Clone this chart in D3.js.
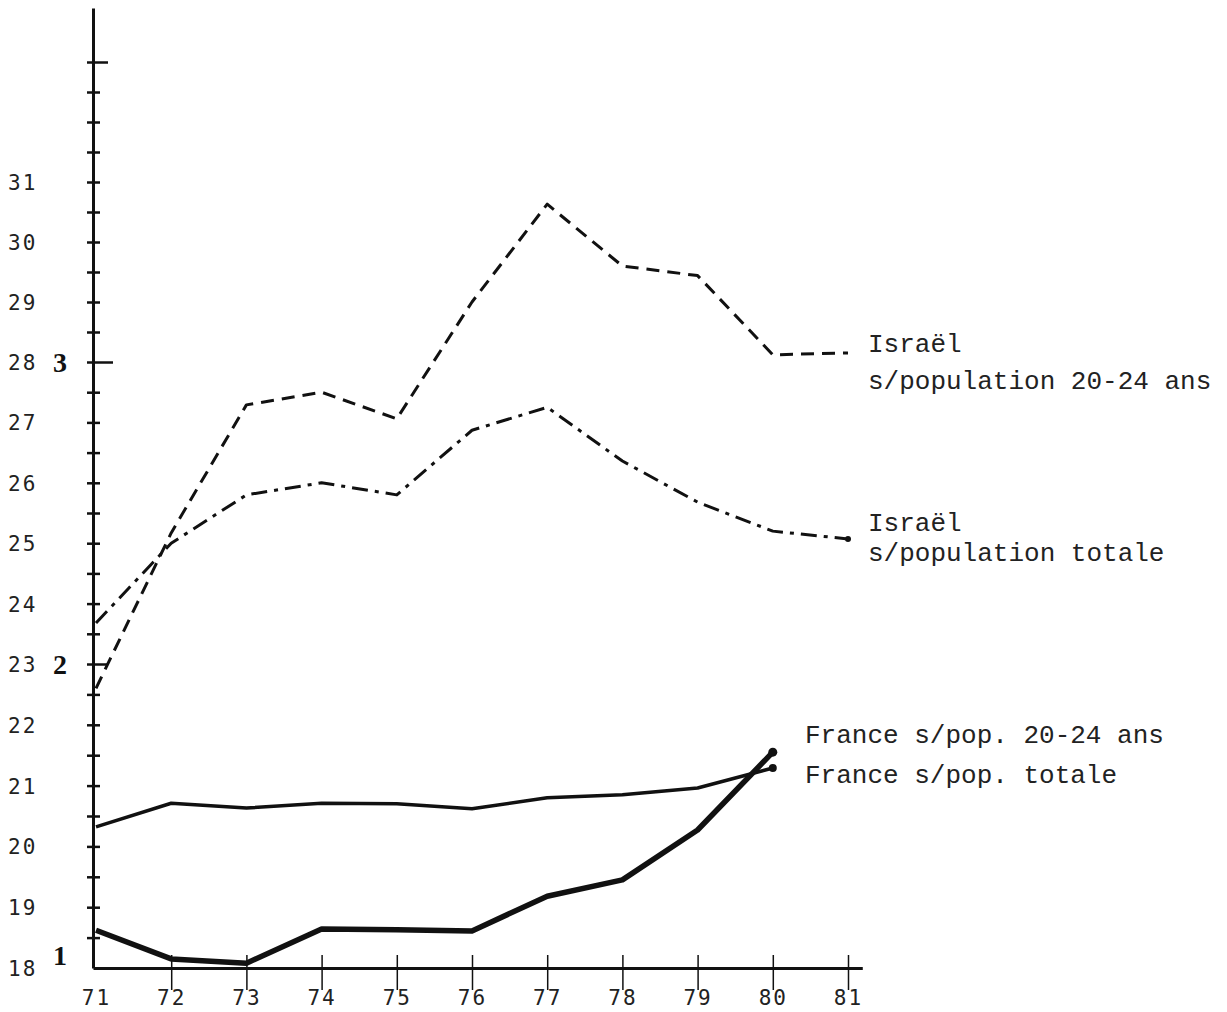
<!DOCTYPE html>
<html>
<head>
<meta charset="utf-8">
<script src="https://cdn.jsdelivr.net/npm/d3@7"></script>
<style>
  html, body { margin: 0; padding: 0; background: #fff; }
  svg { display: block; }
</style>
</head>
<body>
<svg id="chart" width="1227" height="1012"></svg>
<script>
// ---- data ----
const years = [71, 72, 73, 74, 75, 76, 77, 78, 79, 80, 81];
const israel2024 = [22.6, 25.17, 27.29, 27.5, 27.06, 29.0, 30.63, 29.6, 29.44, 28.12, 28.15];
const israelTotale = [23.68, 25.0, 25.8, 26.0, 25.8, 26.87, 27.25, 26.36, 25.68, 25.2, 25.07];
const franceYears = [71, 72, 73, 74, 75, 76, 77, 78, 79, 80];
const france2024 = [18.62, 18.15, 18.08, 18.64, 18.63, 18.61, 19.18, 19.45, 20.27, 21.55];
const franceTotale = [20.32, 20.71, 20.63, 20.71, 20.70, 20.62, 20.8, 20.85, 20.96, 21.29];
const yLabels = [18, 19, 20, 21, 22, 23, 24, 25, 26, 27, 28, 29, 30, 31];
const indexValues = [18, 23, 28];
const indexLabels = ["1", "2", "3"];
const xTickLabels = ["71", "72", "73", "74", "75", "76", "77", "78", "79", "80", "81"];
const seriesLabels = [
  ["Israël", "s/population 20-24 ans"],
  ["Israël", "s/population totale"],
  ["France s/pop. 20-24 ans"],
  ["France s/pop. totale"]
];

// ---- layout ----
const ink = "#111";
const svg = d3.select("#chart");
svg.append("rect").attr("width", 1227).attr("height", 1012).attr("fill", "#fff");

const x = d3.scaleLinear().domain([71, 81]).range([96, 848]);
const y = d3.scaleLinear().domain([18, 23, 28, 33, 33.9]).range([968, 664, 362, 62, 8]);

// ---- Y axis ----
const yTicks = d3.range(18.5, 33.01, 0.5);
const yAxis = svg.append("g").attr("transform", "translate(93,0)")
  .call(d3.axisLeft(y).tickValues(yTicks).tickFormat("").tickSizeOuter(0));
yAxis.select(".domain").attr("stroke", ink).attr("stroke-width", 3);
yAxis.selectAll(".tick line")
  .attr("stroke", ink).attr("stroke-width", 2.5)
  .attr("x1", -6)
  .attr("x2", d => d === 28 ? 20 : (d === 33 || d === 23) ? 15 : 7);

// left numeric labels
svg.append("g").selectAll("text").data(yLabels).join("text")
  .attr("x", 8).attr("y", d => y(d) + 8)
  .attr("font-family", "DejaVu Sans Mono, monospace")
  .attr("font-size", 21).attr("letter-spacing", 2)
  .attr("fill", "#222")
  .text(d => d);

// bold index labels
svg.append("g").selectAll("text").data(indexValues).join("text")
  .attr("x", 53).attr("y", (d, i) => y(d) + (i === 0 ? -3 : 10))
  .attr("font-family", "Liberation Serif, DejaVu Serif, serif")
  .attr("font-weight", "bold")
  .attr("font-size", 28)
  .attr("fill", ink)
  .text((d, i) => indexLabels[i]);

// ---- X axis ----
const xAxisScale = x.copy().domain([70.96, 81.19]).range([x(70.96), x(81.19)]);
const xAxis = svg.append("g").attr("transform", "translate(0,968)")
  .call(d3.axisBottom(xAxisScale).tickValues(years)
    .tickFormat((d, i) => xTickLabels[i]).tickSizeOuter(0));
xAxis.select(".domain").attr("stroke", ink).attr("stroke-width", 3);
xAxis.selectAll(".tick line")
  .attr("stroke", ink).attr("stroke-width", 1.5)
  .attr("y1", d => d === 71 ? 0 : -13).attr("y2", d => d === 71 ? 0 : 22);
xAxis.selectAll(".tick text")
  .attr("y", 37).attr("dy", 0)
  .attr("font-family", "DejaVu Sans Mono, monospace")
  .attr("font-size", 21).attr("letter-spacing", 2)
  .attr("fill", "#222");

// ---- lines ----
function drawLine(xs, vals, opts) {
  const pts = xs.map((yr, i) => [yr, vals[i]]);
  const line = d3.line().x(d => x(d[0])).y(d => y(d[1]));
  svg.append("path").datum(pts)
    .attr("d", line)
    .attr("fill", "none")
    .attr("stroke", ink)
    .attr("stroke-width", opts.width)
    .attr("stroke-linejoin", "round")
    .attr("stroke-dasharray", opts.dash || null);
  if (opts.endDot) {
    const last = pts[pts.length - 1];
    svg.append("circle").attr("cx", x(last[0])).attr("cy", y(last[1]))
      .attr("r", opts.endDot).attr("fill", ink);
  }
}

drawLine(years, israel2024, { width: 3, dash: "13,8" });
drawLine(years, israelTotale, { width: 3, dash: "16,7,4,7", endDot: 3 });
drawLine(franceYears, franceTotale, { width: 3.5, endDot: 4 });
drawLine(franceYears, france2024, { width: 5.5, endDot: 4.5 });

// ---- series labels ----
const labelPos = [
  { x: 868, ys: [352, 389] },
  { x: 868, ys: [531, 561] },
  { x: 805, ys: [743] },
  { x: 805, ys: [783] }
];
seriesLabels.forEach((lines, i) => {
  lines.forEach((t, j) => {
    svg.append("text")
      .attr("x", labelPos[i].x).attr("y", labelPos[i].ys[j])
      .attr("font-family", "Liberation Mono, Courier New, monospace")
      .attr("font-size", 26)
      .attr("fill", "#222")
      .text(t);
  });
});
</script>
</body>
</html>
